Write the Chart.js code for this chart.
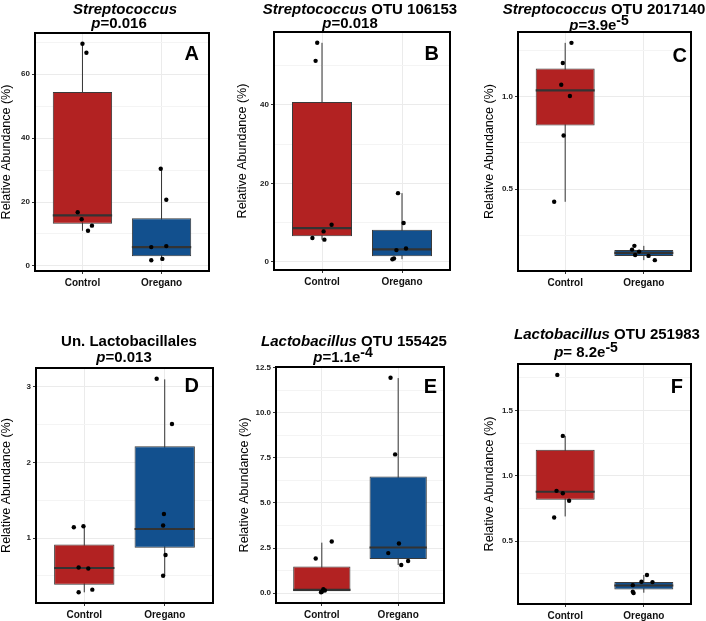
<!DOCTYPE html>
<html>
<head>
<meta charset="utf-8">
<script src="https://cdn.jsdelivr.net/npm/chart.js@4.4.1/dist/chart.umd.min.js"></script>
<style>
  body { margin: 0; background: #fff; }
  #wrap { position: relative; width: 706px; height: 621px; overflow: hidden; font-family: "Liberation Sans", Arial, sans-serif; }
  .cell { position: absolute; }
  .cell canvas { position: absolute; left: 0; top: 0; }
  .tline { position: absolute; width: 300px; text-align: center; font-weight: bold; font-size: 15px; line-height: 16px; color: #000; white-space: nowrap; }
  .tline sup { font-size: 14px; position: relative; top: -5px; vertical-align: baseline; }
</style>
</head>
<body>
<div id="wrap"></div>
<script>
const groups = ['Control', 'Oregano'];
const letters = ['A', 'B', 'C', 'D', 'E', 'F'];
const taxa = ['Streptococcus', 'Streptococcus', 'Streptococcus', 'Un. Lactobacillales', 'Lactobacillus', 'Lactobacillus'];
const taxaItalic = [true, true, true, false, true, true];
const otus = ['', ' OTU 106153', ' OTU 2017140', '', ' OTU 155425', ' OTU 251983'];
const pValues = ['0.016', '0.018', '3.9e', '0.013', '1.1e', ' 8.2e'];
const pExponents = ['', '', '-5', '', '-4', '-5'];

// box stats: [lower whisker, Q1, median, Q3, upper whisker], panels A-F
const controlBoxes = [
    [11.0, 13.2, 15.8, 54.4, 69.5],
    [5.65, 6.5, 8.6, 40.7, 55.8],
    [0.431, 0.843, 1.032, 1.150, 1.289],
    [0.284, 0.384, 0.605, 0.917, 1.157],
    [0.05, 0.11, 0.18, 1.48, 2.80],
    [0.689, 0.816, 0.878, 1.199, 1.306]
];
const oreganoBoxes = [
    [1.8, 3.0, 5.9, 14.9, 30.4],
    [0.68, 1.43, 3.2, 8.2, 17.5],
    [0.116, 0.139, 0.155, 0.171, 0.193],
    [0.502, 0.873, 1.12, 2.214, 3.096],
    [1.56, 1.89, 2.53, 6.47, 11.92],
    [0.105, 0.130, 0.160, 0.186, 0.240]
];

// individual samples (jittered points)
const controlPoints = [
    [69.5, 66.7, 16.8, 14.6, 12.6, 11.0],
    [55.8, 51.2, 9.45, 7.76, 6.08, 5.65],
    [1.289, 1.18, 1.063, 1.002, 0.789, 0.431],
    [1.144, 1.157, 0.611, 0.598, 0.319, 0.284],
    [2.86, 1.92, 0.22, 0.15, 0.08, 0.05],
    [1.773, 1.306, 0.885, 0.867, 0.809, 0.681]
];
const controlJitter = [
    [0.00, 0.05, -0.06, -0.01, 0.12, 0.07],
    [-0.06, -0.08, 0.12, 0.02, -0.12, 0.03],
    [0.08, -0.03, -0.05, 0.06, -0.02, -0.14],
    [-0.13, -0.01, -0.07, 0.05, 0.10, -0.07],
    [0.13, -0.08, 0.02, 0.04, 0.00, -0.01],
    [-0.10, -0.03, -0.11, -0.03, 0.05, -0.14]
];
const oreganoPoints = [
    [30.4, 20.7, 6.2, 5.9, 2.2, 1.8],
    [17.5, 9.9, 3.4, 3.0, 0.84, 0.68],
    [0.193, 0.173, 0.162, 0.144, 0.139, 0.116],
    [3.105, 2.507, 1.319, 1.166, 0.777, 0.502],
    [11.94, 7.69, 2.75, 2.22, 1.78, 1.56],
    [0.240, 0.189, 0.186, 0.163, 0.112, 0.102]
];
const oreganoJitter = [
    [-0.01, 0.06, 0.06, -0.13, 0.01, -0.13],
    [-0.05, 0.02, 0.05, -0.07, -0.10, -0.12],
    [-0.12, -0.15, -0.06, -0.11, 0.06, 0.14],
    [-0.10, 0.09, -0.01, -0.02, 0.01, -0.02],
    [-0.10, -0.04, 0.01, -0.13, 0.13, 0.04],
    [0.04, -0.03, 0.11, -0.14, -0.14, -0.13]
];

const yMajorTicks = [
    [0, 20, 40, 60],
    [0, 20, 40],
    [0.5, 1.0],
    [1, 2, 3],
    [0, 2.5, 5, 7.5, 10, 12.5],
    [0.5, 1.0, 1.5]
];
const yTickLabels = [
    ['0', '20', '40', '60'],
    ['0', '20', '40'],
    ['0.5', '1.0'],
    ['1', '2', '3'],
    ['0.0', '2.5', '5.0', '7.5', '10.0', '12.5'],
    ['0.5', '1.0', '1.5']
];
const yMinorTicks = [
    [10, 30, 50, 70],
    [10, 30, 50],
    [0.25, 0.75, 1.25],
    [0.5, 1.5, 2.5],
    [1.25, 3.75, 6.25, 8.75, 11.25],
    [0.25, 0.75, 1.25, 1.75]
];

// page layout (pixels)
const cells = [[0, 0, 235, 300], [235, 0, 235, 300], [470, 0, 236, 300], [0, 300, 235, 321], [235, 300, 235, 321], [470, 300, 236, 321]];
const areas = [[35, 33, 209, 271], [274, 32, 450, 270], [518, 32, 691, 271], [36, 368, 213, 603], [276, 367, 444, 603], [518, 364, 691, 604]];
const yTitleX = [6, 7, 19, 6, 9, 19];
const titlePos = [[125, 9, 119, 23], [360, 9, 350, 23], [604, 9, 599, 25], [129, 341, 124, 357], [354, 341, 343, 357], [607, 334, 586, 352]];
const letterInset = [[10, 12], [11, 13], [4, 15], [14, 9], [7, 11], [8, 14]];

const RED = '#B22222';
const BLUE = '#12508E';
const BOX_WIDTH = 0.75;

const framePlugin = {
    id: 'frame',
    afterDraw(chart, args, opts) {
        const { ctx, chartArea: a } = chart;
        ctx.save();
        ctx.strokeStyle = '#000';
        ctx.lineWidth = 2;
        ctx.strokeRect(a.left, a.top, a.right - a.left, a.bottom - a.top);
        ctx.fillStyle = '#000';
        ctx.font = 'bold 20px "Liberation Sans", Arial, sans-serif';
        ctx.textAlign = 'right';
        ctx.textBaseline = 'alphabetic';
        ctx.fillText(opts.letter, a.right - opts.dx, a.top + opts.dy + 14.5);
        ctx.restore();
    }
};

const wrap = document.getElementById('wrap');

function addTitle(i) {
    const [c1, y1, c2, y2] = titlePos[i];
    const l1 = document.createElement('div');
    l1.className = 'tline';
    l1.style.left = (c1 - 150) + 'px';
    l1.style.top = (y1 - 8) + 'px';
    l1.innerHTML = taxaItalic[i] ? `<i>${taxa[i]}</i>${otus[i]}` : taxa[i] + otus[i];
    wrap.appendChild(l1);

    const l2 = document.createElement('div');
    l2.className = 'tline';
    l2.style.left = (c2 - 150) + 'px';
    l2.style.top = (y2 - 8) + 'px';
    l2.innerHTML = `<i>p</i>=${pValues[i]}` + (pExponents[i] ? `<sup>${pExponents[i]}</sup>` : '');
    wrap.appendChild(l2);
}

function makeChart(i) {
    const [cx, cy, cw, ch] = cells[i];
    const [al, at, ar, ab] = areas[i];
    const xAxisH = 17;

    const all = controlPoints[i].concat(oreganoPoints[i], controlBoxes[i], oreganoBoxes[i]);
    const lo = Math.min(...all);
    const hi = Math.max(...all);
    const pad = (hi - lo) * 0.05;

    const boxes = [controlBoxes[i], oreganoBoxes[i]];
    const majors = yMajorTicks[i];
    const labels = yTickLabels[i];
    const yTicks = majors.concat(yMinorTicks[i]).sort((a, b) => a - b);

    const points = [];
    controlPoints[i].forEach((v, k) => points.push({ x: 1 + controlJitter[i][k], y: v }));
    oreganoPoints[i].forEach((v, k) => points.push({ x: 2 + oreganoJitter[i][k], y: v }));

    const whiskers = [];
    const medians = [];
    boxes.forEach((b, g) => {
        const x = g + 1;
        whiskers.push({ x: x, y: b[0] }, { x: x, y: b[4] }, { x: x + 0.5, y: null });
        medians.push({ x: x - BOX_WIDTH / 2, y: b[2] }, { x: x + BOX_WIDTH / 2, y: b[2] }, { x: x + 0.5, y: null });
    });

    const cell = document.createElement('div');
    cell.className = 'cell';
    cell.style.left = cx + 'px';
    cell.style.top = cy + 'px';
    cell.style.width = cw + 'px';
    cell.style.height = ch + 'px';
    const canvas = document.createElement('canvas');
    canvas.width = cw;
    canvas.height = ch;
    cell.appendChild(canvas);
    wrap.appendChild(cell);

    const isMajor = ctx => ctx.tick && majors.indexOf(ctx.tick.value) >= 0;

    new Chart(canvas, {
        type: 'scatter',
        data: {
            datasets: [
                {
                    type: 'scatter',
                    data: points,
                    backgroundColor: '#000',
                    borderWidth: 0,
                    pointRadius: 2.2,
                    order: 0
                },
                {
                    type: 'line',
                    data: medians,
                    borderColor: '#333333',
                    borderWidth: 2.2,
                    pointRadius: 0,
                    spanGaps: false,
                    order: 1
                },
                {
                    type: 'bar',
                    data: boxes.map((b, g) => ({ x: g + 1, y: [b[1], b[3]] })),
                    backgroundColor: [RED, BLUE],
                    borderColor: '#3a3a3a',
                    borderWidth: 1,
                    borderSkipped: false,
                    barPercentage: BOX_WIDTH,
                    categoryPercentage: 1,
                    order: 2
                },
                {
                    type: 'line',
                    data: whiskers,
                    borderColor: '#333333',
                    borderWidth: 1,
                    pointRadius: 0,
                    spanGaps: false,
                    order: 3
                }
            ]
        },
        options: {
            responsive: false,
            animation: false,
            events: [],
            layout: {
                padding: { left: 0, top: at - cy, right: cx + cw - ar, bottom: cy + ch - ab - xAxisH }
            },
            plugins: {
                legend: { display: false },
                tooltip: { enabled: false },
                frame: { letter: letters[i], dx: letterInset[i][0], dy: letterInset[i][1] }
            },
            scales: {
                x: {
                    type: 'linear',
                    min: 0.4,
                    max: 2.6,
                    offset: false,
                    afterBuildTicks: ax => { ax.ticks = [{ value: 1 }, { value: 2 }]; },
                    afterFit: ax => { ax.height = xAxisH; },
                    ticks: {
                        callback: v => groups[Math.round(v) - 1],
                        font: { size: 10, weight: 'bold' },
                        color: '#111',
                        padding: 3,
                        maxRotation: 0,
                        autoSkip: false
                    },
                    grid: { offset: false, color: '#EBEBEB', tickColor: '#333', tickLength: 3 },
                    border: { display: false }
                },
                y: {
                    type: 'linear',
                    min: lo - pad,
                    max: hi + pad,
                    afterBuildTicks: ax => { ax.ticks = yTicks.map(v => ({ value: v })); },
                    afterFit: ax => { ax.width = al - cx; },
                    ticks: {
                        callback: v => {
                            const k = majors.indexOf(v);
                            return k >= 0 ? labels[k] : '';
                        },
                        font: { size: 8, weight: 'bold' },
                        color: '#222',
                        padding: 2,
                        autoSkip: false
                    },
                    grid: {
                        color: ctx => isMajor(ctx) ? '#EBEBEB' : '#F4F4F4',
                        tickColor: ctx => isMajor(ctx) ? '#333' : 'rgba(0,0,0,0)',
                        tickLength: 3
                    },
                    border: { display: false },
                    title: {
                        display: true,
                        text: 'Relative Abundance (%)',
                        font: { size: 12.5, lineHeight: 1 },
                        color: '#000',
                        padding: { top: yTitleX[i] - 6, bottom: 0 }
                    }
                }
            }
        },
        plugins: [framePlugin]
    });

    addTitle(i);
}

Chart.defaults.font.family = '"Liberation Sans", Arial, sans-serif';
for (let i = 0; i < 6; i++) {
    makeChart(i);
}
</script>
</body>
</html>
